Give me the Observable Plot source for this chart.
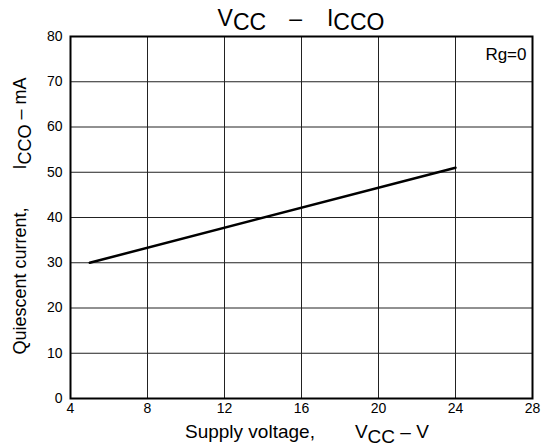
<!DOCTYPE html>
<html><head>
<meta charset="utf-8">
<script src="https://cdn.jsdelivr.net/npm/d3@7"></script>
<script src="https://cdn.jsdelivr.net/npm/@observablehq/plot@0.6"></script>
<style>body{margin:0;background:#fff} svg{font-family:"Liberation Sans",Arial,sans-serif}</style>
</head><body><div id="chart"></div>
<script>
const xTicks = [4, 8, 12, 16, 20, 24, 28];
const yTicks = [0, 10, 20, 30, 40, 50, 60, 70, 80];
const vcc = [5, 24];
const icco = [30, 51];
const note = "Rg=0";
const data = vcc.map((v, i) => ({vcc: v, icco: icco[i]}));

const chart = Plot.plot({
  width: 544, height: 448,
  marginLeft: 70, marginRight: 12, marginTop: 36, marginBottom: 50,
  style: {fontFamily: "Liberation Sans, Arial, sans-serif", fontSize: "14px", color: "#000", background: "#fff", overflow: "visible"},
  x: {domain: [4, 28], ticks: xTicks, tickSize: 0, tickPadding: 5, label: null},
  y: {domain: [0, 80], ticks: yTicks, tickSize: 0, tickPadding: 8, label: null},
  marks: [
    Plot.ruleX(xTicks, {stroke: "#222", strokeWidth: 1}),
    Plot.ruleY(yTicks, {stroke: "#222", strokeWidth: 1}),
    Plot.frame({stroke: "#000", strokeWidth: 2}),
    Plot.line(data, {x: "vcc", y: "icco", stroke: "#000", strokeWidth: 2.5}),
    Plot.text([note], {frameAnchor: "top-right", dx: -6, dy: 11, fontSize: 17, textAnchor: "end"})
  ]
});
document.getElementById("chart").append(chart);

const svg = d3.select(chart);
function addText(x, y, parts, size, rotate, anchor) {
  const t = svg.append("text")
    .attr("font-size", size)
    .attr("fill", "#000")
    .attr("text-anchor", anchor || "middle")
    .attr("transform", `translate(${x},${y})` + (rotate ? " rotate(-90)" : ""));
  parts.forEach(([s, dx, dy]) => t.append("tspan").attr("dx", dx).attr("dy", dy).text(s));
}
addText(301, 26, [["V", 0, 0], ["CC", 0, 4], ["–", 23, -4], ["I", 25, 0], ["CCO", 0, 4]], 23, false);
addText(185, 438, [["Supply voltage,", 0, 0], ["V", 40, 0], ["CC", 0, 5], [" – V", 0, -5]], 19, false, "start");
addText(26, 216, [["Quiescent current,", 0, 0], ["I", 38, 0], ["CCO", 0, 5], [" – mA", 0, -5]], 18, true);
</script>
</body></html>
